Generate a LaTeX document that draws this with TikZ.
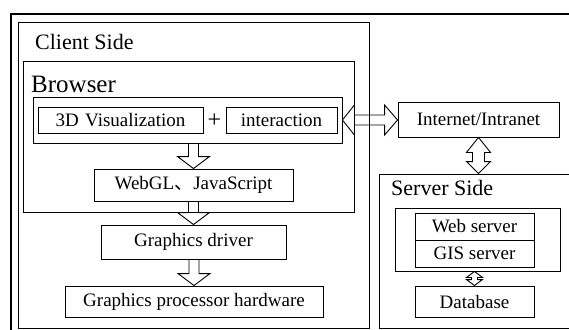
\documentclass[tikz,border=0pt]{standalone}
\usepackage{fontspec}
\setmainfont{Liberation Serif}
\newfontfamily\cjk{Noto Sans CJK SC}
\usetikzlibrary{calc}
\begin{document}
\begin{tikzpicture}[x=1pt,y=-1pt,
  box/.style={draw,line width=0.9pt,inner sep=0pt,font=\fontsize{19}{22}\selectfont},
  frame/.style={draw,line width=0.9pt},
  arr/.style={draw,line width=0.9pt,line join=miter},
  title/.style={anchor=base west,inner sep=0pt,font=\fontsize{22}{26}\selectfont}]
\useasboundingbox (0,0) rectangle (569,329);
\clip (0,0) rectangle (569,329);
\fill[white] (0,0) rectangle (569,329);
% outer frame
\draw[line width=2pt] (11,14) rectangle (600,400);
% containers
\draw[frame] (18,22) rectangle (369,328);
\node[title] (tclient) at (35,49) {Client Side};
\draw[frame] (23,61) rectangle (354,212);
\node[title,font=\fontsize{25}{29}\selectfont] (tbrowser) at (31,92) {Browser};
\node[box,minimum width=309,minimum height=46] (inner) at (187.5,120) {};
\node[box,minimum width=165,minimum height=26,text width=165,align=center,xshift=0pt] (viz) at (120.5,120) {3D Visualization\hspace*{8pt}};
\node[box,minimum width=111,minimum height=26] (inter) at (281.5,120) {interaction};
\node[inner sep=0pt,font=\fontsize{24}{26}\selectfont] (plus) at (214.5,121) {+};
\node[box,minimum width=199,minimum height=32] (webgl) at (193.5,185) {WebGL{\cjk 、}JavaScript};
\node[box,minimum width=185,minimum height=34] (driver) at (193.5,242) {Graphics driver};
\node[box,minimum width=258,minimum height=31] (gpu) at (194,301.5) {Graphics processor hardware};
% server side
\node[box,minimum width=161,minimum height=35] (internet) at (478.5,119.5) {Internet/Intranet};
\node[draw,line width=0.9pt,inner sep=0pt,minimum width=201,minimum height=154] (server) at (479.5,251) {};
\node[title] (tserver) at (391,195) {Server Side};
\node[box,minimum width=165,minimum height=63] (srvinner) at (477.5,239.5) {};
\node[box,minimum width=119,minimum height=27] (web) at (474.5,226.5) {Web server};
\node[box,minimum width=119,minimum height=27] (gis) at (474.5,253.5) {GIS server};
\node[box,minimum width=119,minimum height=31] (db) at (474.5,301.5) {Database};
% down block arrows
\foreach \a/\b in {inner/webgl,webgl/driver,driver/gpu}{
  \draw[arr] let \p1=(\a.south), \p2=(\b.north) in
    (\x2-5pt,\y1) -- (\x2-5pt,\y2+12pt) -- (\x2-16pt,\y2+12pt) -- (\x2,\y2)
    -- (\x2+16pt,\y2+12pt) -- (\x2+5pt,\y2+12pt) -- (\x2+5pt,\y1);
}
% horizontal double arrow
\draw[arr] let \p1=(inner.east), \p2=(internet.west) in
  (\x1,\y1) -- (\x1+12pt,\y1+15pt) -- (\x1+12pt,\y1+5pt) -- (\x2-13pt,\y1+5pt)
  -- (\x2-13pt,\y1+15pt) -- (\x2,\y1) -- (\x2-13pt,\y1-15pt) -- (\x2-13pt,\y1-5pt)
  -- (\x1+12pt,\y1-5pt) -- (\x1+12pt,\y1-15pt) -- cycle;
% vertical double arrow
\draw[arr,fill=white] let \p1=(internet.south), \p2=(server.north) in
  (\x1,\y1) -- (\x1+12pt,\y1-15pt) -- (\x1+6pt,\y1-15pt) -- (\x1+6pt,\y2+12pt)
  -- (\x1+12pt,\y2+12pt) -- (\x1,\y2) -- (\x1-12pt,\y2+12pt) -- (\x1-6pt,\y2+12pt)
  -- (\x1-6pt,\y1-15pt) -- (\x1-12pt,\y1-15pt) -- cycle;
% small double arrow
\draw[arr] let \p1=(srvinner.south), \p2=(db.north) in
  (\x2,\y1) -- (\x2+8pt,\y1-6pt) -- (\x2+3pt,\y1-6pt) -- (\x2+3pt,\y2+6pt)
  -- (\x2+8pt,\y2+6pt) -- (\x2,\y2) -- (\x2-8pt,\y2+6pt) -- (\x2-3pt,\y2+6pt)
  -- (\x2-3pt,\y1-6pt) -- (\x2-8pt,\y1-6pt) -- cycle;
\end{tikzpicture}
\end{document}
